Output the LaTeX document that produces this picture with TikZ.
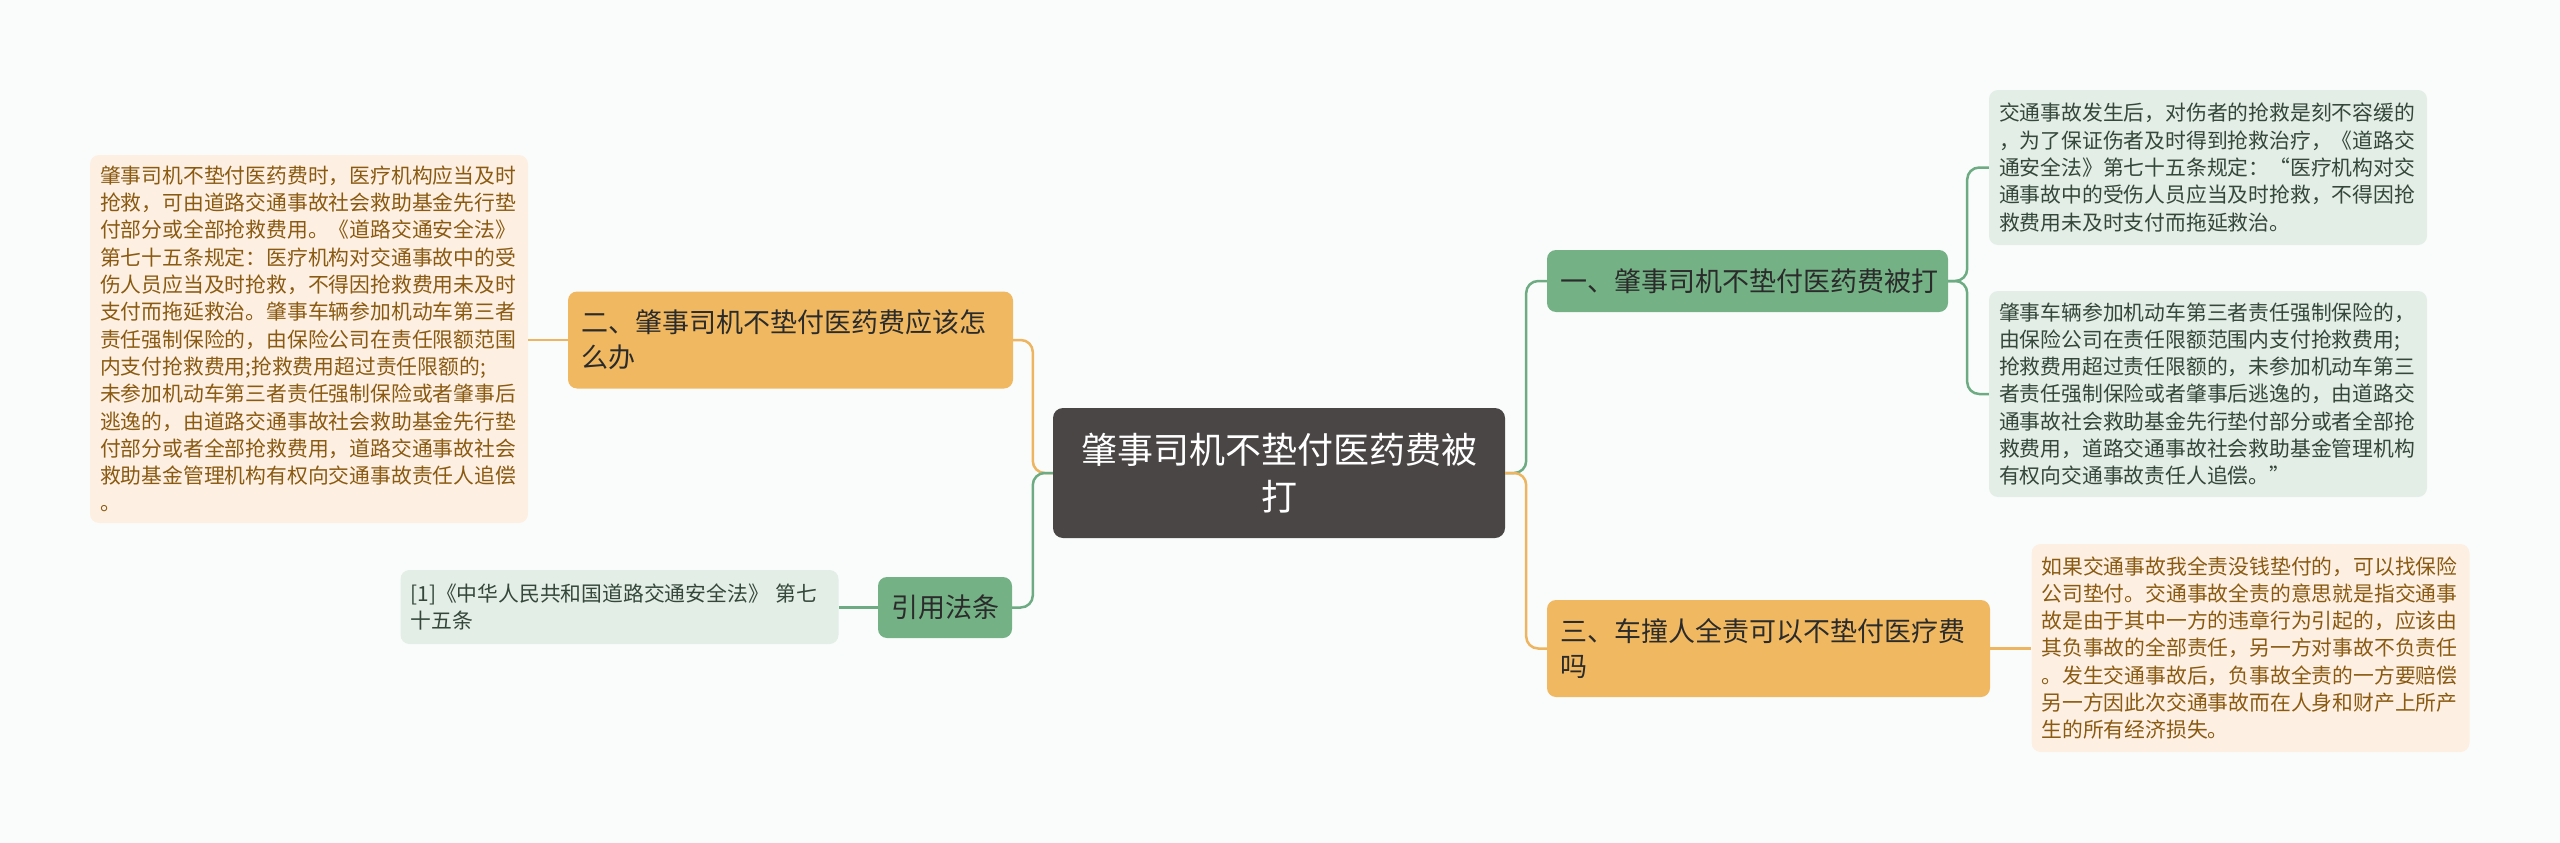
\documentclass[tikz,border=0pt]{standalone}
\usepackage{fontspec}
\setmainfont{Noto Sans CJK SC}
\definecolor{bgc}{HTML}{FAFCFC}
\definecolor{cenfill}{HTML}{4A4646}
\definecolor{gnode}{HTML}{74B286}
\definecolor{onode}{HTML}{F0B961}
\definecolor{gline}{HTML}{6DAC82}
\definecolor{oline}{HTML}{EDB560}
\definecolor{gleaf}{HTML}{E3EEE6}
\definecolor{oleaf}{HTML}{FDF0E2}
\definecolor{gtext}{HTML}{34473A}
\definecolor{otext}{HTML}{8A5A12}
\definecolor{ntext}{HTML}{2B2B2B}
\begin{document}
\begin{tikzpicture}[x=1pt,y=-1pt,
  censtyle/.style={fill=cenfill,text=white,rounded corners=10pt,inner sep=0pt,align=center,
    font=\fontsize{36}{47}\selectfont},
  topic/.style={rounded corners=9pt,inner ysep=0pt,inner xsep=13pt,align=left,text=ntext,
    font=\fontsize{27}{35}\selectfont},
  gtopic/.style={topic,fill=gnode},
  otopic/.style={topic,fill=onode},
  leaf/.style={rounded corners=9pt,inner ysep=0pt,inner xsep=10pt,align=left,text width=418pt,
    font=\fontsize{20.8}{27.3}\selectfont},
  gleafs/.style={leaf,fill=gleaf,text=gtext},
  oleafs/.style={leaf,fill=oleaf,text=otext},
  gcon/.style={draw=gline,line width=2.5pt,rounded corners=12pt},
  ocon/.style={draw=oline,line width=2.5pt,rounded corners=12pt}]
\fill[bgc] (0,0) rectangle (2560,843);
\useasboundingbox (0,0) rectangle (2560,843);

% central
\node[censtyle,minimum width=452pt,minimum height=130pt] (cen) at (1279,473)
  {肇事司机不垫付医药费被\\打};

% right topics
\node[gtopic,text width=375pt,minimum height=62pt] (one) at (1747.5,281)
  {一、肇事司机不垫付医药费被打};
\node[otopic,text width=417pt,minimum height=97pt] (three) at (1768.5,648.5)
  {三、车撞人全责可以不垫付医疗费\\吗};

% left topics
\node[otopic,text width=419pt,minimum height=97pt] (two) at (790.5,340)
  {二、肇事司机不垫付医药费应该怎\\么办};
\node[gtopic,inner xsep=0pt,align=center,minimum width=134pt,minimum height=61pt] (ref) at (945,607.5)
  {引用法条};

% leaves
\node[gleafs,minimum height=155pt] (la) at (2208,167.5)
  {交通事故发生后，对伤者的抢救是刻不容缓的\\
   ，为了保证伤者及时得到抢救治疗，《道路交\\
   通安全法》第七十五条规定：“医疗机构对交\\
   通事故中的受伤人员应当及时抢救，不得因抢\\
   救费用未及时支付而拖延救治。};
\node[gleafs,minimum height=206pt] (lb) at (2208,394)
  {肇事车辆参加机动车第三者责任强制保险的，\\
   由保险公司在责任限额范围内支付抢救费用;\\
   抢救费用超过责任限额的，未参加机动车第三\\
   者责任强制保险或者肇事后逃逸的，由道路交\\
   通事故社会救助基金先行垫付部分或者全部抢\\
   救费用，道路交通事故社会救助基金管理机构\\
   有权向交通事故责任人追偿。”};
\node[oleafs,minimum height=208pt] (lc) at (2250.5,648)
  {如果交通事故我全责没钱垫付的，可以找保险\\
   公司垫付。交通事故全责的意思就是指交通事\\
   故是由于其中一方的违章行为引起的，应该由\\
   其负事故的全部责任，另一方对事故不负责任\\
   。发生交通事故后，负事故全责的一方要赔偿\\
   另一方因此次交通事故而在人身和财产上所产\\
   生的所有经济损失。};
\node[oleafs,minimum height=368pt] (ld) at (309,339)
  {肇事司机不垫付医药费时，医疗机构应当及时\\
   抢救，可由道路交通事故社会救助基金先行垫\\
   付部分或全部抢救费用。《道路交通安全法》\\
   第七十五条规定：医疗机构对交通事故中的受\\
   伤人员应当及时抢救，不得因抢救费用未及时\\
   支付而拖延救治。肇事车辆参加机动车第三者\\
   责任强制保险的，由保险公司在责任限额范围\\
   内支付抢救费用;抢救费用超过责任限额的;\\
   未参加机动车第三者责任强制保险或者肇事后\\
   逃逸的，由道路交通事故社会救助基金先行垫\\
   付部分或者全部抢救费用，道路交通事故社会\\
   救助基金管理机构有权向交通事故责任人追偿\\
   。};
\node[gleafs,minimum height=74pt] (le) at (619.5,607)
  {[1]《中华人民共和国道路交通安全法》 第七\\十五条};

% connectors (drawn behind nodes)
\begin{scope}[on background layer/.style={}]
\end{scope}
\draw[gcon] (cen.east) -- ++(21,0) |- (one.west);
\draw[ocon] (cen.east) -- ++(21,0) |- (three.west);
\draw[ocon] (cen.west) -- ++(-20,0) |- (two.east);
\draw[gcon] (cen.west) -- ++(-20,0) |- (ref.west -| ref.east);
\draw[ocon] (two.west) -- (two.west -| ld.east);
\draw[gcon] (ref.west) -- (ref.west -| le.east);
\draw[gcon] (one.east) -- ++(19,0) |- (la.west);
\draw[gcon] (one.east) -- ++(19,0) |- (lb.west);
\draw[ocon] (three.east) -- (three.east -| lc.west);
\end{tikzpicture}
\end{document}
